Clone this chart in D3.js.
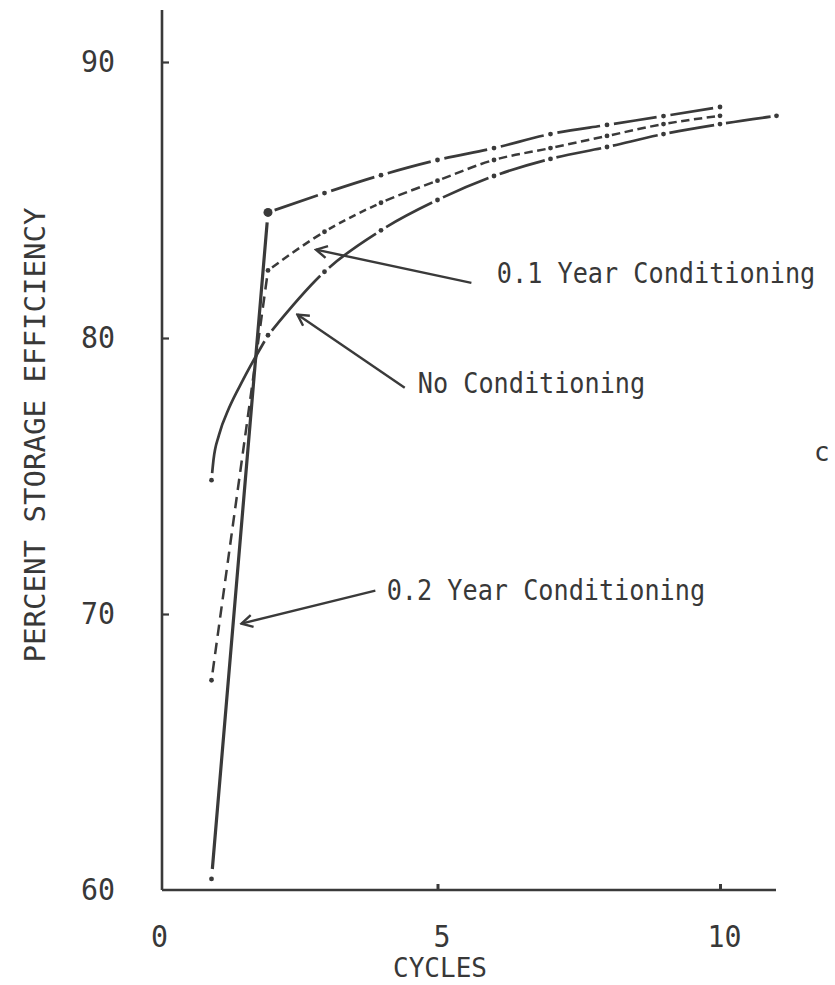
<!DOCTYPE html>
<html>
<head>
<meta charset="utf-8">
<title>Storage efficiency vs cycles</title>
<script src="https://cdn.jsdelivr.net/npm/d3@7"></script>
<style>
body { margin: 0; background: #fff; }
text { font-family: "DejaVu Sans Mono", monospace; fill: #383838; }
</style>
</head>
<body>
<div id="chart"></div>
<script>
// cycle numbers
var cycles = [1, 2, 3, 4, 5, 6, 7, 8, 9, 10];
var cyclesNoCond = [1, 2, 3, 4, 5, 6, 7, 8, 9, 10, 11];
// percent storage efficiency
var cond02 = [60.4, 84.55, 85.25, 85.9, 86.45, 86.88, 87.39, 87.72, 88.04, 88.37];
var cond01 = [67.6, 82.45, 83.85, 84.9, 85.7, 86.45, 86.88, 87.32, 87.75, 88.05];
var noCond = [74.85, 80.1, 82.4, 83.9, 85.0, 85.87, 86.49, 86.92, 87.39, 87.75, 88.05];
// no conditioning bends hard between cycle 1 and 2
var noCondBendCycles = [1.035, 1.133, 1.31, 1.558];
var noCondBendValues = [75.58, 76.49, 77.46, 78.48];

var xTicks = [0, 5, 10];
var yTicks = [60, 70, 80, 90];

var labels = [
  {text: "0.1 Year Conditioning", tx: 6.05, ty: 82.0, tip: [2.85, 83.2], tail: [5.6, 82.0]},
  {text: "No Conditioning", tx: 4.65, ty: 78.0, tip: [2.52, 80.85], tail: [4.42, 78.2]},
  {text: "0.2 Year Conditioning", tx: 4.1, ty: 70.5, tip: [1.53, 69.65], tail: [3.9, 70.85]}
];

var W = 835, H = 985;
var svg = d3.select("#chart").append("svg").attr("width", W).attr("height", H);

var x = d3.scaleLinear().domain([0, 10]).range([155, 720]);
var y = d3.scaleLinear().domain([60, 90]).range([890, 62]);
var spineX = 162, spineTop = 10, spineRight = 776;
var ink = "#3a3a3a";

// axis lines
svg.append("line").attr("x1", spineX).attr("y1", y(60)).attr("x2", spineX).attr("y2", spineTop)
  .attr("stroke", ink).attr("stroke-width", 2.6);
svg.append("line").attr("x1", spineX).attr("y1", y(60)).attr("x2", spineRight).attr("y2", y(60))
  .attr("stroke", ink).attr("stroke-width", 2.6);

// tick marks (pointing in)
var yt = svg.append("g").attr("transform", "translate(" + spineX + ",0)")
  .call(d3.axisLeft(y).tickValues([70, 80, 90]).tickSize(-7).tickFormat(""));
yt.select(".domain").remove();
yt.selectAll("line").attr("stroke", ink).attr("stroke-width", 2.2);

var xt = svg.append("g").attr("transform", "translate(0," + y(60) + ")")
  .call(d3.axisBottom(x).tickValues([5, 10]).tickSize(-6).tickFormat(""));
xt.select(".domain").remove();
xt.selectAll("line").attr("stroke", ink).attr("stroke-width", 3);

// tick labels
var yl = svg.append("g").attr("transform", "translate(" + spineX + ",0)")
  .call(d3.axisLeft(y).tickValues(yTicks).tickSize(0).tickPadding(47));
yl.select(".domain").remove();
yl.selectAll("text").attr("font-size", 30).attr("font-family", "DejaVu Sans Mono")
  .attr("fill", "#383838")
  .attr("textLength", function(d) { return String(d).length * 17; })
  .attr("lengthAdjust", "spacingAndGlyphs");

var xl = svg.append("g").attr("transform", "translate(4," + y(60) + ")")
  .call(d3.axisBottom(x).tickValues(xTicks).tickSize(0).tickPadding(36));
xl.select(".domain").remove();
xl.selectAll("text").attr("font-size", 30).attr("font-family", "DejaVu Sans Mono")
  .attr("fill", "#383838")
  .attr("textLength", function(d) { return String(d).length * 17; })
  .attr("lengthAdjust", "spacingAndGlyphs");

// axis titles
svg.append("text").attr("x", 440).attr("y", 977).attr("text-anchor", "middle")
  .attr("font-size", 27).attr("textLength", 94).attr("lengthAdjust", "spacingAndGlyphs")
  .text("CYCLES");
svg.append("text").attr("transform", "translate(45,435) rotate(-90)").attr("text-anchor", "middle")
  .attr("font-size", 28).attr("textLength", 455).attr("lengthAdjust", "spacingAndGlyphs")
  .text("PERCENT STORAGE EFFICIENCY");

// curve pieces: each piece has its own stroke style; gaps are left round the data dots
var bendCyc = [1].concat(noCondBendCycles, [2]);
var bendVal = [noCond[0]].concat(noCondBendValues, [noCond[1]]);
var parts = [
  {cyc: cycles.slice(0, 2), val: cond02.slice(0, 2), style: "solid", width: 3.2, gap: 10},
  {cyc: cycles.slice(1), val: cond02.slice(1), style: "long", width: 2.7, gap: 7},
  {cyc: cycles.slice(0, 2), val: cond01.slice(0, 2), style: "short", dash: 11, space: 7, width: 2.5, gap: 8},
  {cyc: cycles.slice(1), val: cond01.slice(1), style: "short", dash: 8, space: 4.5, width: 2.5, gap: 5},
  {cyc: bendCyc, val: bendVal, style: "solid", width: 2.7, gap: 7},
  {cyc: cyclesNoCond.slice(1), val: noCond.slice(1), style: "long", width: 2.7, gap: 6}
];

var line = d3.line()
  .x(function(d) { return x(d[0]); })
  .y(function(d) { return y(d[1]); })
  .curve(d3.curveMonotoneX);

function lengthAtX(node, px) {
  var lo = 0, hi = node.getTotalLength();
  for (var i = 0; i < 40; i++) {
    var mid = (lo + hi) / 2;
    if (node.getPointAtLength(mid).x < px) lo = mid; else hi = mid;
  }
  return (lo + hi) / 2;
}

parts.forEach(function(p) {
  var pts = p.cyc.map(function(c, i) { return [c, p.val[i]]; });
  var path = svg.append("path").attr("d", line(pts))
    .attr("fill", "none").attr("stroke", ink).attr("stroke-width", p.width);
  var node = path.node();
  var total = node.getTotalLength();
  var marks = p.cyc.filter(function(c) { return Number.isInteger(c); })
    .map(function(c) { return lengthAtX(node, x(c)); });
  marks[0] = 0;
  marks[marks.length - 1] = total;
  var arr = [0, p.gap];
  for (var i = 0; i < marks.length - 1; i++) {
    var inner = marks[i + 1] - marks[i] - 2 * p.gap;
    var endGap = (i == marks.length - 2) ? p.gap + 20 : 2 * p.gap;
    if (p.style == "short") {
      var n = Math.max(1, Math.round((inner + p.space) / (p.dash + p.space)));
      var d = (inner - (n - 1) * p.space) / n;
      for (var k = 0; k < n - 1; k++) arr.push(d, p.space);
      arr.push(d, endGap);
    } else {
      arr.push(inner, endGap);
    }
  }
  path.attr("stroke-dasharray", arr.map(function(v) { return v.toFixed(2); }).join(","));
});

// data dots
[[cycles, cond02], [cycles, cond01], [cyclesNoCond, noCond]].forEach(function(s, si) {
  svg.selectAll(null).data(s[0]).enter().append("circle")
    .attr("cx", function(d) { return x(d); })
    .attr("cy", function(d, i) { return y(s[1][i]); })
    .attr("r", function(d) { return (si == 0 && d == 2) ? 4.5 : 2.4; })
    .attr("fill", ink);
});

// annotations with arrows
svg.append("defs").append("marker")
  .attr("id", "arrow").attr("viewBox", "-12 -7 14 14")
  .attr("markerWidth", 14).attr("markerHeight", 14).attr("markerUnits", "userSpaceOnUse")
  .attr("refX", 0).attr("refY", 0).attr("orient", "auto-start-reverse")
  .append("path").attr("d", "M-11,-6 L0,0 L-11,6")
  .attr("fill", "none").attr("stroke", ink).attr("stroke-width", 2.4);

labels.forEach(function(l) {
  svg.append("line")
    .attr("x1", x(l.tail[0])).attr("y1", y(l.tail[1]))
    .attr("x2", x(l.tip[0])).attr("y2", y(l.tip[1]))
    .attr("stroke", ink).attr("stroke-width", 2.4)
    .attr("marker-end", "url(#arrow)");
  // squeeze the mono font to the narrow typewriter width
  svg.append("text")
    .attr("transform", "translate(" + x(l.tx) + "," + y(l.ty) + ") scale(0.9,1)")
    .attr("font-size", 28)
    .text(l.text);
});

// stray mark at the right edge of the scan
svg.append("text").attr("x", 814).attr("y", 461).attr("font-size", 26).text("c");
</script>
</body>
</html>
